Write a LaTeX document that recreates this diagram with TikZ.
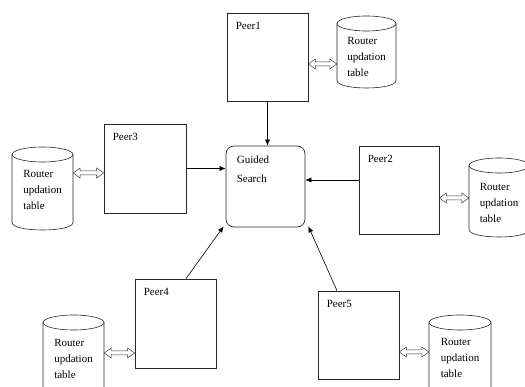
\documentclass[tikz,border=0pt]{standalone}
\usepackage{fontspec}
\setmainfont{Liberation Serif}
\usetikzlibrary{arrows.meta,calc}
\newcommand\cylout[4]{% cx, top, bottom, rx
  \draw[cylline] (#1,#2+7.5) ellipse [x radius=#4, y radius=7.5];
  \draw[cylline] (#1-#4,#2+7.5) -- (#1-#4,#3-7.5) .. controls (#1-#4,#3+2.5) and (#1+#4,#3+2.5) .. (#1+#4,#3-7.5) -- (#1+#4,#2+7.5);
}
\newcommand\dblarr[2]{%
  \draw[dblline] let \p1=#1, \p2=#2 in
    (\p1) -- (\x1+7pt,\y1+5pt) -- (\x1+7pt,\y1+2pt) -- (\x2-7pt,\y2+2pt) -- (\x2-7pt,\y2+5pt) -- (\p2)
    -- (\x2-7pt,\y2-5pt) -- (\x2-7pt,\y2-2pt) -- (\x1+7pt,\y1-2pt) -- (\x1+7pt,\y1-5pt) -- cycle;
}
\begin{document}
\begin{tikzpicture}[x=1pt,y=-1pt,
  peer/.style={draw=black!85, line width=0.7pt, inner sep=0, minimum width=81pt, minimum height=88pt},
  plabel/.style={anchor=north west, inner sep=0, xshift=9pt, yshift=-9.5pt, font=\fontsize{11}{13}\selectfont},
  cyl/.style={inner sep=0, align=left, font=\fontsize{11}{16}\selectfont},
  cylline/.style={draw=black!85, line width=0.6pt},
  dblline/.style={draw=black!80, line width=0.5pt, line join=miter},
  conn/.style={draw=black, line width=0.6pt, -{Latex[length=6pt,width=5pt]}},
  gsbox/.style={draw=black!85, line width=0.7pt, rounded corners=8pt, inner sep=0, minimum width=79pt, minimum height=81pt}
]
\useasboundingbox (0,0) rectangle (525,387);
\clip (0,0) rectangle (525,387);

% Guided search
\node[gsbox, label={[anchor=north west, inner sep=0, xshift=11pt, yshift=-10pt, align=left, font=\fontsize{11}{19}\selectfont]north west:Guided\\Search}] (gs) at (265.5,186.5) {};

% peers
\node[peer, label={[plabel]north west:Peer1}] (p1) at (267.5,57) {};
\node[peer, minimum width=82pt, minimum height=89pt, label={[plabel]north west:Peer3}] (p3) at (145,168.5) {};
\node[peer, minimum width=80pt, label={[plabel]north west:Peer2}] (p2) at (399,190) {};
\node[peer, minimum height=89pt, label={[plabel]north west:Peer4}] (p4) at (175.5,323.5) {};
\node[peer, label={[plabel]north west:Peer5}] (p5) at (358.5,335) {};

% cylinders (router updation tables)
\node[cyl, minimum width=59pt] (c1) at (366.5,57) {Router\\updation\\table};
\node[cyl, minimum width=61pt] (c3) at (42.5,190) {Router\\updation\\table};
\node[cyl, minimum width=60pt] (c2) at (499,203) {Router\\updation\\table};
\node[cyl, minimum width=61pt] (c4) at (73.5,359) {Router\\updation\\table};
\node[cyl, minimum width=62pt] (c5) at (460,358) {Router\\updation\\table};
\cylout{366.5}{16}{88}{29.5}
\cylout{42.5}{147}{230}{30.5}
\cylout{499}{158}{237}{30}
\cylout{73.5}{315}{395}{30.5}
\cylout{460}{315}{395}{31}

% connectors to guided search
\draw[conn] (p1.south) -- (p1.south |- gs.north);
\draw[conn] (p3.east) -- (p3.east -| gs.west);
\draw[conn] (p2.west |- 0,180) -- (gs.east |- 0,180);
\draw[conn] ([xshift=10.5pt]p4.north) -- ([xshift=-2pt,yshift=1pt]gs.south west);
\draw[conn] ([xshift=-21.5pt]p5.north) -- ([xshift=3pt,yshift=1pt]gs.south east);

% double arrows peer <-> table
\dblarr{(p1.east |- 0,64)}{(c1.west |- 0,64)}
\dblarr{(c3.east |- 0,173)}{(p3.west |- 0,173)}
\dblarr{(p2.east |- 0,198)}{(c2.west |- 0,198)}
\dblarr{(c4.east |- 0,353)}{(p4.west |- 0,353)}
\dblarr{(p5.east |- 0,352)}{(c5.west |- 0,352)}
\end{tikzpicture}
\end{document}
